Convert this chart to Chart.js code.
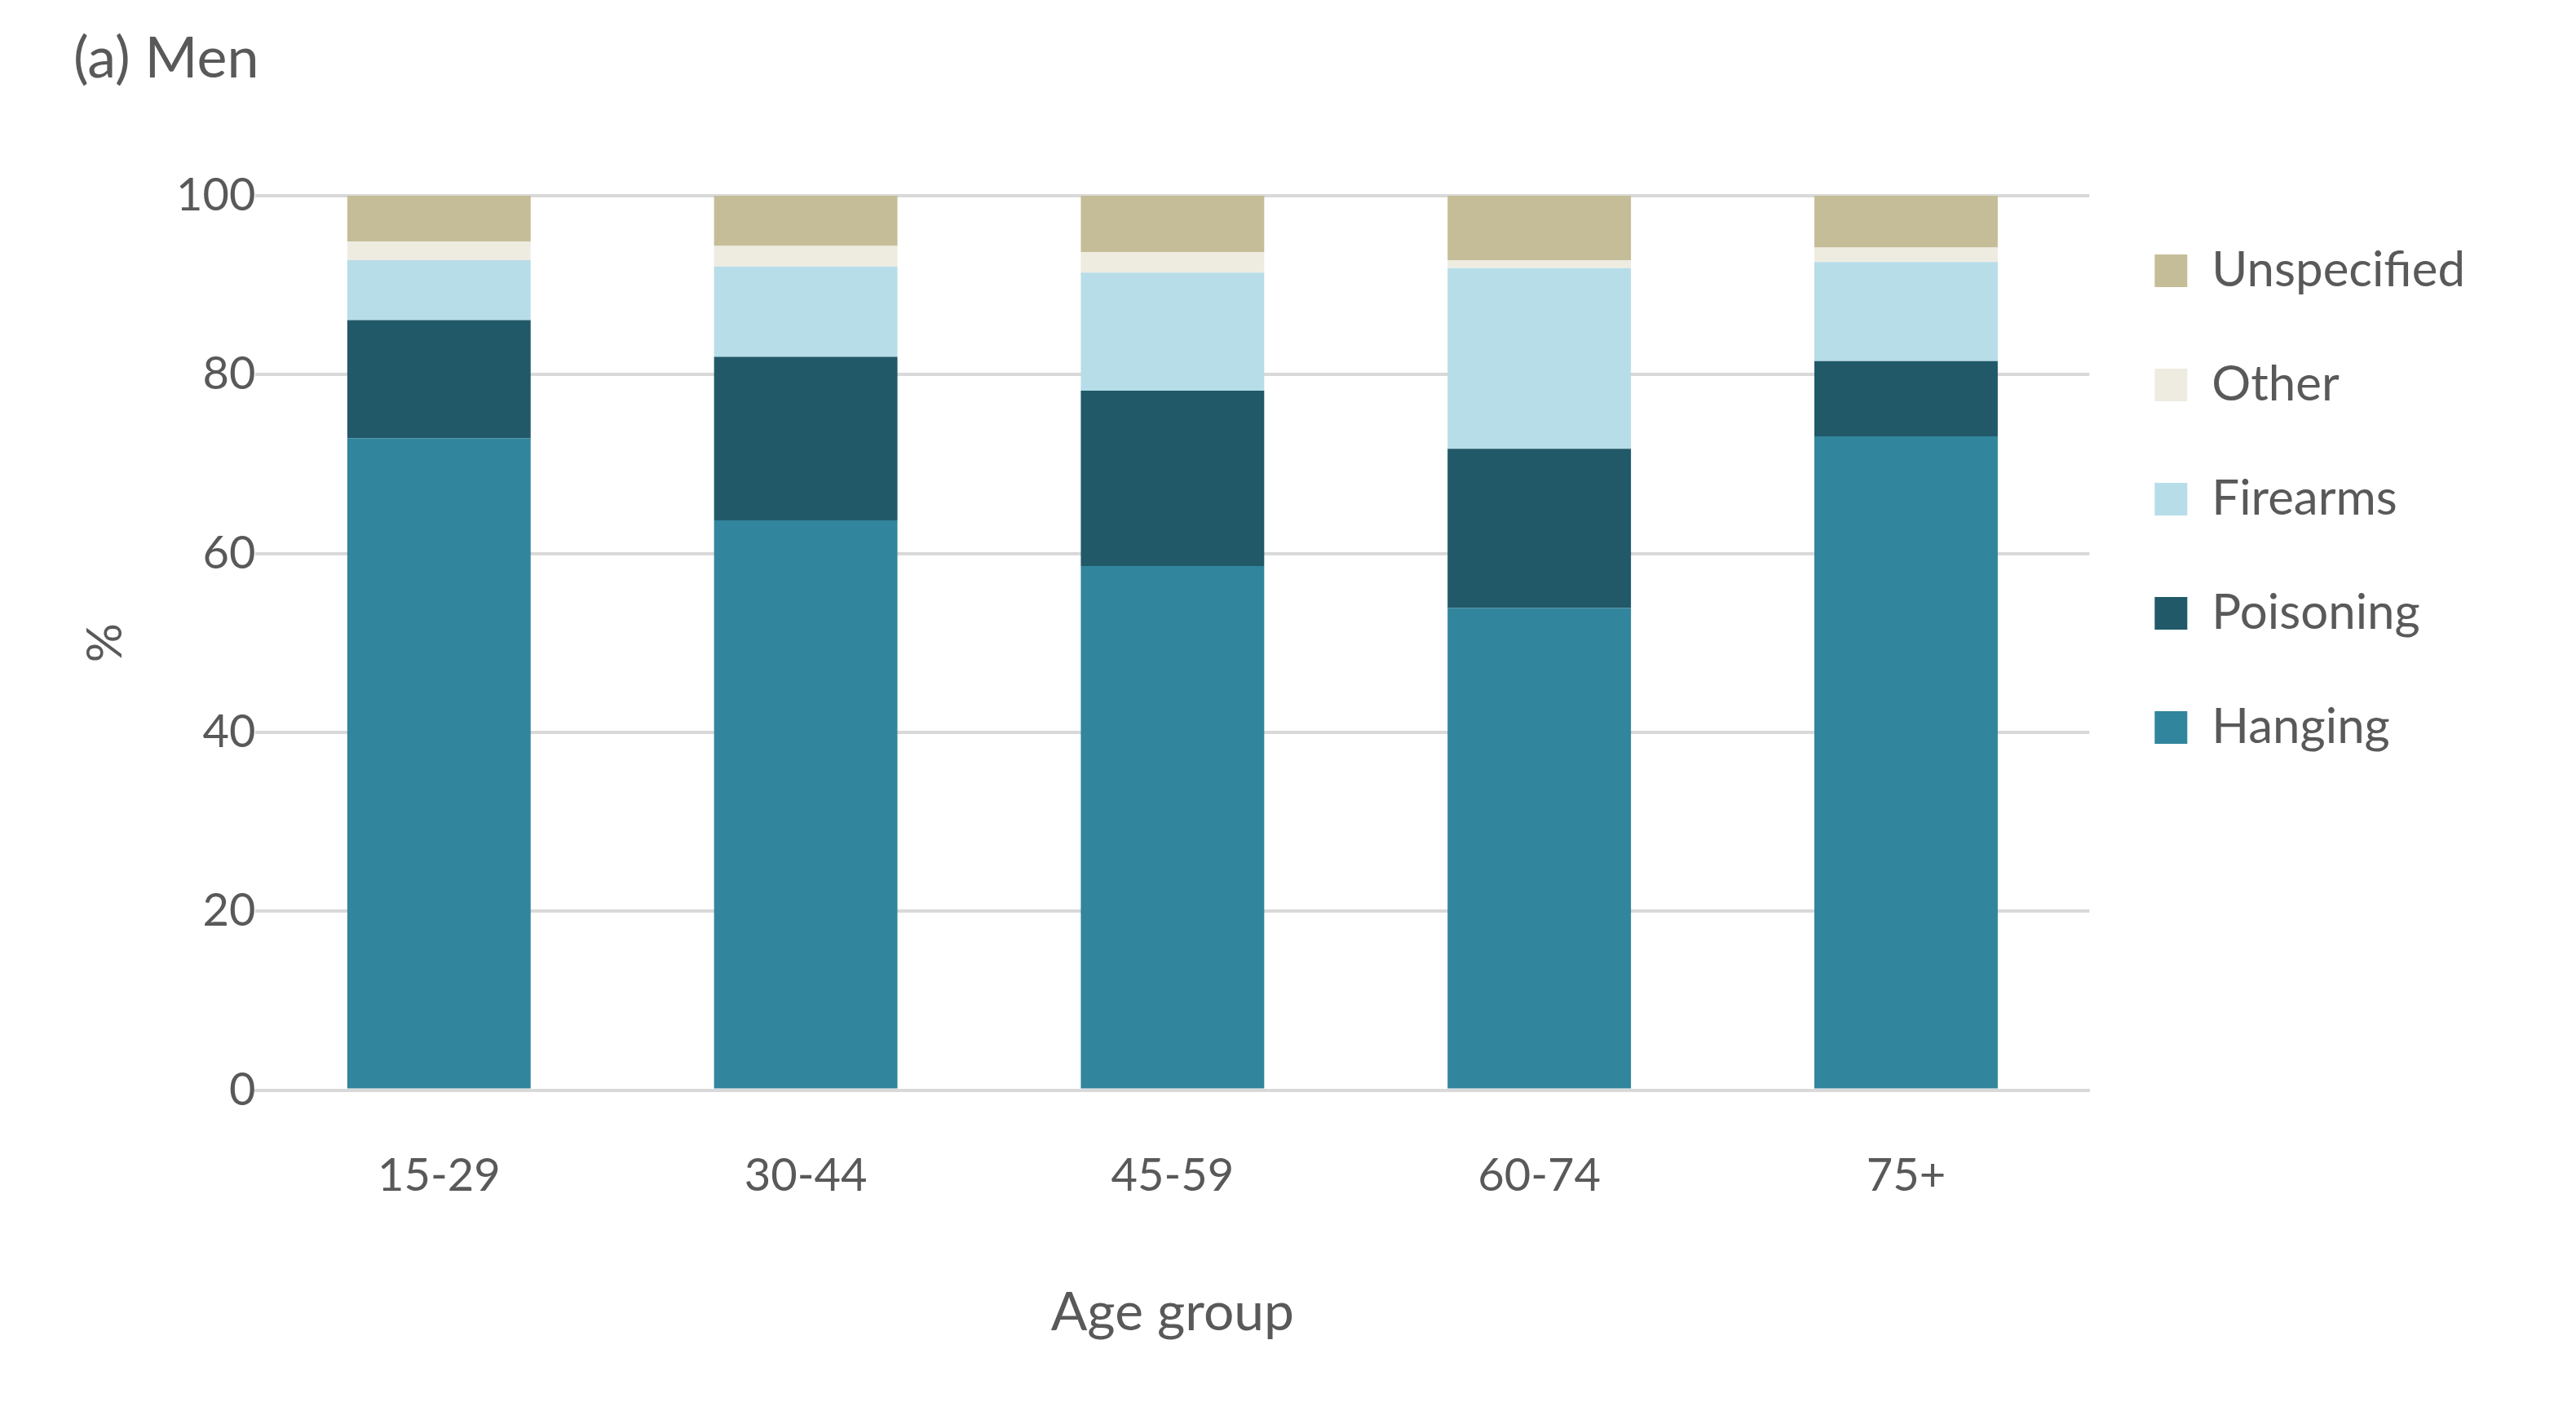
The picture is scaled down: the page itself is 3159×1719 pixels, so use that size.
<!DOCTYPE html>
<html><head><meta charset="utf-8">
<script src="https://cdn.jsdelivr.net/npm/chart.js@4"></script>
<style>body{margin:0;background:#fff}</style>
</head><body>
<canvas id="c" width="3159" height="1719"></canvas>
<script>
const ageGroups = ['15-29', '30-44', '45-59', '60-74', '75+'];
const hanging = [72.9, 63.7, 58.6, 53.9, 73.1];
const poisoning = [13.2, 18.3, 19.6, 17.8, 8.4];
const firearms = [6.7, 10.1, 13.2, 20.2, 11.1];
const other = [2.1, 2.3, 2.3, 0.9, 1.6];
const unspecified = [5.1, 5.6, 6.3, 7.2, 5.8];
const yTicks = [0, 20, 40, 60, 80, 100];

const txt = '#595959';
const font = "Lato, sans-serif";

new Chart(document.getElementById('c'), {
  type: 'bar',
  data: {
    labels: ageGroups,
    datasets: [
      {label: 'Hanging', data: hanging, backgroundColor: '#31859c'},
      {label: 'Poisoning', data: poisoning, backgroundColor: '#215968'},
      {label: 'Firearms', data: firearms, backgroundColor: '#b7dde8'},
      {label: 'Other', data: other, backgroundColor: '#eeece1'},
      {label: 'Unspecified', data: unspecified, backgroundColor: '#c4bd97'}
    ]
  },
  options: {
    responsive: false,
    devicePixelRatio: 1,
    animation: false,
    layout: {padding: {left: 90, right: 126, top: 30, bottom: 66}},
    datasets: {bar: {barPercentage: 0.5, categoryPercentage: 1}},
    plugins: {
      title: {display: true, text: '(a) Men', align: 'start', color: txt,
        font: {family: font, size: 70, weight: 'normal'}, padding: {top: 0, bottom: 126}},
      legend: {position: 'right', align: 'start', reverse: true,
        title: {display: true, text: ' ', padding: 72, font: {size: 40}},
        labels: {color: txt, boxWidth: 40, boxHeight: 40, padding: 80,
          font: {family: font, size: 60}}},
      tooltip: {enabled: false}
    },
    scales: {
      x: {stacked: true, grid: {display: false},
        border: {color: '#d9d9d9', width: 4},
        ticks: {color: txt, font: {family: font, size: 56}, padding: 64},
        title: {display: true, text: 'Age group', color: txt, font: {family: font, size: 66}, padding: {top: 30}}},
      y: {stacked: true, min: 0, max: 100,
        afterBuildTicks: a => { a.ticks = yTicks.map(v => ({value: v})); },
        grid: {color: '#d9d9d9', lineWidth: 4, drawTicks: false},
        border: {display: false},
        ticks: {color: txt, font: {family: font, size: 56}, padding: 0},
        title: {display: true, text: '%', color: txt, font: {family: font, size: 60}, padding: {bottom: 50}}}
    }
  }
});
</script>
</body></html>
